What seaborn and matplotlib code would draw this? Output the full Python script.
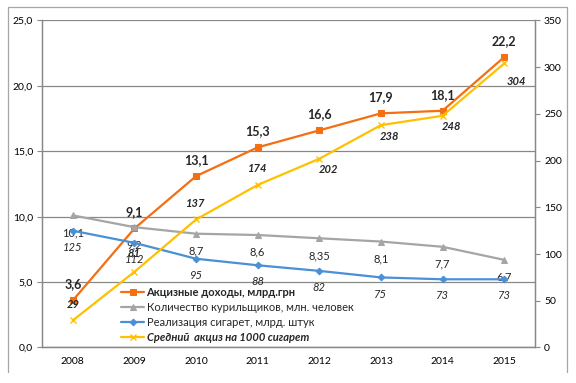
import numpy as np
import pandas as pd
import matplotlib
matplotlib.use("Agg")
import matplotlib.pyplot as plt
from matplotlib.lines import Line2D
import seaborn as sns

years = ["2008", "2009", "2010", "2011", "2012", "2013", "2014", "2015"]
excise_revenue = [3.6, 9.1, 13.1, 15.3, 16.6, 17.9, 18.1, 22.2]          # left axis
smokers = [10.1, 9.2, 8.7, 8.6, 8.35, 8.1, 7.7, 6.7]                     # left axis
cig_sales = [125, 112, 95, 88, 82, 75, 73, 73]                           # right axis
avg_excise = [29, 81, 137, 174, 202, 238, 248, 304]                      # right axis

excise_labels = ["3,6", "9,1", "13,1", "15,3", "16,6", "17,9", "18,1", "22,2"]
smokers_labels = ["10,1", "9,2", "8,7", "8,6", "8,35", "8,1", "7,7", "6,7"]
sales_labels = ["125", "112", "95", "88", "82", "75", "73", "73"]
avg_labels = ["29", "81", "137", "174", "202", "238", "248", "304"]

left_ticks = [0, 5, 10, 15, 20, 25]
right_ticks = [0, 50, 100, 150, 200, 250, 300, 350]

names = ["Акцизные доходы, млрд.грн",
         "Количество курильщиков, млн. человек",
         "Реализация сигарет, млрд. штук",
         "Средний  акциз на 1000 сигарет"]

c_orange = "#F46E12"
c_gray = "#A5A5A5"
c_blue = "#4A90D6"
c_yellow = "#FFC000"
c_axis = "#888888"

sns.set_style("white")
plt.rcParams["font.family"] = ["Lato", "Noto Sans", "DejaVu Sans"]

xpos = np.arange(len(years))
df = pd.DataFrame({"x": xpos, "rev": excise_revenue, "smk": smokers,
                   "sales": cig_sales, "avg": avg_excise})

fig = plt.figure(figsize=(5.76, 3.83), dpi=100)
ax = fig.add_axes([0.0729, 0.0927, 0.8559, 0.8538])
ax2 = ax.twinx()

lw = 1.6
sns.lineplot(data=df, x="x", y="rev", ax=ax, color=c_orange, lw=lw, marker="s",
             markersize=4.5, markeredgecolor=c_orange, sort=False, label=names[0], legend=False)
sns.lineplot(data=df, x="x", y="smk", ax=ax, color=c_gray, lw=lw, marker="^",
             markersize=5, markeredgecolor=c_gray, sort=False, label=names[1], legend=False)
sns.lineplot(data=df, x="x", y="sales", ax=ax2, color=c_blue, lw=lw, marker="D",
             markersize=3.4, markeredgecolor=c_blue, sort=False, label=names[2], legend=False)
sns.lineplot(data=df, x="x", y="avg", ax=ax2, color=c_yellow, lw=lw, marker="x",
             markersize=5, markeredgewidth=1.0, markeredgecolor=c_yellow, sort=False,
             label=names[3], legend=False)

ax.set_xlim(-0.5, len(years) - 0.5)
ax.set_ylim(0, 25)
ax2.set_ylim(0, 350)

ax.set_xticks(xpos)
ax.set_xticklabels(years)
ax.set_xticks(np.arange(-0.5, len(years), 1), minor=True)
ax.set_yticks(left_ticks)
ax.set_yticklabels([f"{v:.1f}".replace(".", ",") for v in left_ticks])
ax2.set_yticks(right_ticks)
ax2.set_yticklabels([str(v) for v in right_ticks])

ax.tick_params(axis="x", which="major", length=0, pad=7, labelsize=7.5, colors="black")
ax.tick_params(axis="x", which="minor", length=3.5, width=0.8, color=c_axis, direction="out")
ax.tick_params(axis="y", length=3.5, width=0.8, color=c_axis, direction="out", pad=3,
               labelsize=7.5, labelcolor="black", left=True)
ax2.tick_params(axis="y", length=3.5, width=0.8, color=c_axis, direction="out", pad=3,
                labelsize=7.5, labelcolor="black", right=True)
ax.set_xlabel("")
ax.set_ylabel("")
ax2.set_ylabel("")

ax.grid(axis="y", color=c_axis, lw=0.9)
ax.set_axisbelow(True)
for a in (ax, ax2):
    a.spines["top"].set_visible(False)
    for s in ("left", "right", "bottom"):
        a.spines[s].set_color(c_axis)
        a.spines[s].set_linewidth(0.9)

# data labels
for i in range(len(years)):
    ax.annotate(excise_labels[i], (xpos[i], excise_revenue[i]), xytext=(0, 11.5),
                textcoords="offset points", ha="center", va="center",
                fontsize=9, fontweight="bold")
    ax.annotate(smokers_labels[i], (xpos[i], smokers[i]), xytext=(0, -12.5),
                textcoords="offset points", ha="center", va="center", fontsize=8)
    ax2.annotate(sales_labels[i], (xpos[i], cig_sales[i]), xytext=(0, -12),
                 textcoords="offset points", ha="center", va="center", fontsize=8,
                 fontstyle="italic")
yl_off = [(0, 11.5), (0, 13), (0, 11.5), (0, 11.5), (7, -8), (6, -8), (6.5, -7.5), (9, -13)]
for i in range(len(years)):
    ax2.annotate(avg_labels[i], (xpos[i], avg_excise[i]), xytext=yl_off[i],
                 textcoords="offset points", ha="center", va="center", fontsize=8,
                 fontweight="bold", fontstyle="italic")

handles = [ax.lines[0], ax.lines[1], ax2.lines[0], ax2.lines[1]]
leg = fig.legend(handles, names, loc="upper left", bbox_to_anchor=(121 / 576, 1 - 287 / 383),
                 frameon=False, fontsize=8, handlelength=2.1, handletextpad=0.2,
                 labelspacing=0.35, borderpad=0, borderaxespad=0)
texts = leg.get_texts()
texts[0].set_fontweight("bold")
texts[3].set_fontweight("bold")
texts[3].set_fontstyle("italic")

# outer chart frame
fc = "#A6A6A6"
x0, x1 = 8 / 576, 567 / 576
y0, y1 = 1 - 372 / 383, 1 - 7 / 383
fig.add_artist(Line2D([x0, x1], [y1, y1], color=fc, lw=0.9, transform=fig.transFigure))
fig.add_artist(Line2D([x0, x0], [y0, y1], color=fc, lw=0.9, transform=fig.transFigure))
fig.add_artist(Line2D([x1, x1], [y0, y1], color=fc, lw=0.9, transform=fig.transFigure))

fig.savefig("out.png", dpi=100)
